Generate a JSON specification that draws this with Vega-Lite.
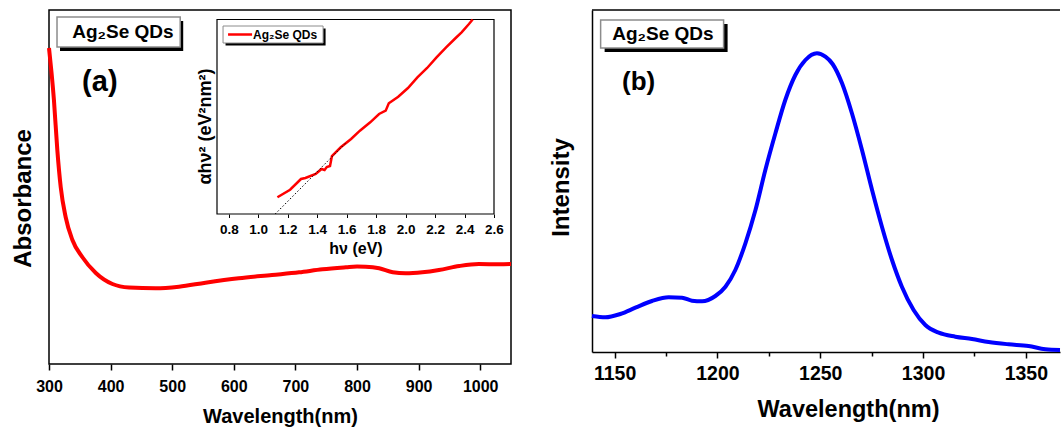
{
  "$schema": "https://vega.github.io/schema/vega-lite/v6.json",
  "background": "white",
  "padding": {"left": 10, "top": 9, "right": 0, "bottom": 0},
  "bounds": "flush",
  "spacing": 81,
  "config": {
    "font": "Liberation Sans",
    "view": {"stroke": "black", "strokeWidth": 1.5},
    "axis": {
      "grid": false,
      "domainColor": "black",
      "domainWidth": 1.5,
      "tickColor": "black",
      "tickWidth": 1.5,
      "labelColor": "black",
      "titleColor": "black",
      "labelFont": "Liberation Sans",
      "titleFont": "Liberation Sans",
      "labelFontWeight": "bold",
      "titleFontWeight": "bold",
      "labelFlush": false,
      "labelOverlap": false
    }
  },
  "datasets": {
    "absorbance": [
      {"wavelength": 300, "absorbance": 316},
      {"wavelength": 304, "absorbance": 292},
      {"wavelength": 308, "absorbance": 264},
      {"wavelength": 313.5, "absorbance": 214},
      {"wavelength": 319, "absorbance": 177},
      {"wavelength": 327, "absorbance": 147},
      {"wavelength": 338, "absorbance": 124},
      {"wavelength": 354, "absorbance": 107},
      {"wavelength": 376, "absorbance": 91},
      {"wavelength": 403, "absorbance": 80},
      {"wavelength": 430, "absorbance": 76.5},
      {"wavelength": 473, "absorbance": 75.7},
      {"wavelength": 511, "absorbance": 77.3},
      {"wavelength": 554, "absorbance": 81.3},
      {"wavelength": 608, "absorbance": 85.7},
      {"wavelength": 662, "absorbance": 89},
      {"wavelength": 706, "absorbance": 91.7},
      {"wavelength": 744, "absorbance": 94.7},
      {"wavelength": 782, "absorbance": 96.7},
      {"wavelength": 800, "absorbance": 97.5},
      {"wavelength": 814, "absorbance": 97.3},
      {"wavelength": 836, "absorbance": 95.7},
      {"wavelength": 858, "absorbance": 91.7},
      {"wavelength": 879, "absorbance": 90.7},
      {"wavelength": 906, "absorbance": 91.7},
      {"wavelength": 933, "absorbance": 94},
      {"wavelength": 966, "absorbance": 98},
      {"wavelength": 998, "absorbance": 100},
      {"wavelength": 1031, "absorbance": 99.7},
      {"wavelength": 1050, "absorbance": 100}
    ],
    "tauc": [
      {"energy": 1.13, "value": 16.7},
      {"energy": 1.216, "value": 24.3},
      {"energy": 1.29, "value": 35},
      {"energy": 1.32, "value": 36},
      {"energy": 1.39, "value": 40},
      {"energy": 1.43, "value": 45},
      {"energy": 1.45, "value": 44},
      {"energy": 1.465, "value": 47},
      {"energy": 1.487, "value": 48},
      {"energy": 1.5, "value": 58},
      {"energy": 1.56, "value": 66.7},
      {"energy": 1.63, "value": 75},
      {"energy": 1.69, "value": 83.3},
      {"energy": 1.76, "value": 91.7},
      {"energy": 1.82, "value": 100},
      {"energy": 1.865, "value": 103.3},
      {"energy": 1.886, "value": 110.7},
      {"energy": 1.95, "value": 117.3},
      {"energy": 2.016, "value": 126},
      {"energy": 2.08, "value": 136.7},
      {"energy": 2.146, "value": 146},
      {"energy": 2.21, "value": 156.7},
      {"energy": 2.275, "value": 166.7},
      {"energy": 2.34, "value": 176},
      {"energy": 2.38, "value": 181.7},
      {"energy": 2.43, "value": 190},
      {"energy": 2.455, "value": 194.5}
    ],
    "tauc_fit": [
      {"energy": 1.115, "value": 0},
      {"energy": 1.6, "value": 72}
    ],
    "pl": [
      {"wavelength": 1139, "intensity": 36},
      {"wavelength": 1145.5, "intensity": 34.7},
      {"wavelength": 1152.8, "intensity": 38},
      {"wavelength": 1160.1, "intensity": 44.3},
      {"wavelength": 1168.2, "intensity": 51},
      {"wavelength": 1176.3, "intensity": 54.7},
      {"wavelength": 1182.8, "intensity": 54.3},
      {"wavelength": 1187.6, "intensity": 51.3},
      {"wavelength": 1192.5, "intensity": 50.7},
      {"wavelength": 1199, "intensity": 56},
      {"wavelength": 1203.9, "intensity": 65.3},
      {"wavelength": 1208.7, "intensity": 82},
      {"wavelength": 1213.6, "intensity": 108.7},
      {"wavelength": 1218.5, "intensity": 142},
      {"wavelength": 1223.3, "intensity": 182},
      {"wavelength": 1228.2, "intensity": 218.7},
      {"wavelength": 1233, "intensity": 252},
      {"wavelength": 1237.9, "intensity": 277},
      {"wavelength": 1242.8, "intensity": 292},
      {"wavelength": 1248.4, "intensity": 298.7},
      {"wavelength": 1252.5, "intensity": 295.3},
      {"wavelength": 1256, "intensity": 288},
      {"wavelength": 1260.6, "intensity": 268.7},
      {"wavelength": 1265.4, "intensity": 238.7},
      {"wavelength": 1270.3, "intensity": 202},
      {"wavelength": 1275.2, "intensity": 162},
      {"wavelength": 1280, "intensity": 125.3},
      {"wavelength": 1284.9, "intensity": 92},
      {"wavelength": 1289.7, "intensity": 65.3},
      {"wavelength": 1295.4, "intensity": 42},
      {"wavelength": 1301.1, "intensity": 27},
      {"wavelength": 1307.6, "intensity": 19.3},
      {"wavelength": 1315.7, "intensity": 15.3},
      {"wavelength": 1323.8, "intensity": 13},
      {"wavelength": 1331.9, "intensity": 10},
      {"wavelength": 1341.6, "intensity": 7.7},
      {"wavelength": 1351.3, "intensity": 6},
      {"wavelength": 1359.5, "intensity": 2.7},
      {"wavelength": 1366.6, "intensity": 2}
    ]
  },
  "hconcat": [
    {
      "width": 462,
      "height": 354,
      "resolve": {
        "scale": {"x": "independent", "y": "independent"},
        "axis": {"x": "independent", "y": "independent"}
      },
      "layer": [
        {
          "layer": [
            {
              "data": {"name": "absorbance"},
              "mark": {"type": "line", "color": "#ff0000", "strokeWidth": 4, "interpolate": "monotone"},
              "encoding": {
                "x": {
                  "field": "wavelength",
                  "type": "quantitative",
                  "scale": {"domain": [300, 1050], "nice": false, "zero": false},
                  "axis": {
                    "orient": "bottom",
                    "title": "Wavelength(nm)",
                    "values": [300, 350, 400, 450, 500, 550, 600, 650, 700, 750, 800, 850, 900, 950, 1000, 1050],
                    "format": "d",
                    "labelExpr": "datum.value % 100 === 0 ? datum.label : ''",
                    "tickSize": {"condition": {"test": "datum.value % 100 === 50", "value": 4}, "value": 6},
                    "labelFontSize": 16,
                    "titleFontSize": 20,
                    "labelPadding": 8,
                    "titlePadding": 12,
                    "domain": false
                  }
                },
                "y": {
                  "field": "absorbance",
                  "type": "quantitative",
                  "scale": {"domain": [0, 354], "nice": false, "zero": false},
                  "axis": {
                    "orient": "left",
                    "title": "Absorbance",
                    "labels": false,
                    "ticks": false,
                    "domain": false,
                    "titleFontSize": 24,
                    "titlePadding": 14,
                    "titleY": 188
                  }
                }
              }
            },
            {
              "data": {"values": [{}]},
              "mark": {"type": "rect", "fill": "black", "xOffset": 3, "x2Offset": 3, "yOffset": 4, "y2Offset": 4},
              "encoding": {
                "x": {"datum": 313, "type": "quantitative"},
                "x2": {"datum": 513},
                "y": {"datum": 317, "type": "quantitative"},
                "y2": {"datum": 347}
              }
            },
            {
              "data": {"values": [{}]},
              "mark": {"type": "rect", "fill": "white", "stroke": "#8c8c8c", "strokeWidth": 1.5},
              "encoding": {
                "x": {"datum": 313, "type": "quantitative"},
                "x2": {"datum": 513},
                "y": {"datum": 317, "type": "quantitative"},
                "y2": {"datum": 347}
              }
            },
            {
              "data": {"values": [{}]},
              "mark": {"type": "text", "text": "Ag₂Se QDs", "fontSize": 19, "fontWeight": "bold", "align": "center", "baseline": "middle", "color": "black"},
              "encoding": {
                "x": {"datum": 420, "type": "quantitative"},
                "y": {"datum": 332, "type": "quantitative"}
              }
            },
            {
              "data": {"values": [{}]},
              "mark": {"type": "text", "text": "(a)", "fontSize": 29, "fontWeight": "bold", "align": "center", "baseline": "middle", "color": "black"},
              "encoding": {
                "x": {"datum": 382.5, "type": "quantitative"},
                "y": {"datum": 282.5, "type": "quantitative"}
              }
            }
          ]
        },
        {
          "layer": [
            {
              "data": {"values": [{}]},
              "mark": {"type": "rect", "fill": "white", "stroke": "black", "strokeWidth": 1.2},
              "encoding": {
                "x": {"datum": 0.72, "type": "quantitative"},
                "x2": {"datum": 2.6},
                "y": {"datum": 0, "type": "quantitative"},
                "y2": {"datum": 194.5}
              }
            },
            {
              "data": {"name": "tauc"},
              "mark": {"type": "line", "color": "#ff0000", "strokeWidth": 2.5},
              "encoding": {
                "x": {
                  "field": "energy",
                  "type": "quantitative",
                  "scale": {"domain": [0.72, 2.6], "range": [168, 445], "nice": false, "zero": false},
                  "axis": {
                    "orient": "bottom",
                    "offset": -150,
                    "title": "hν (eV)",
                    "values": [0.8, 0.9, 1.0, 1.1, 1.2, 1.3, 1.4, 1.5, 1.6, 1.7, 1.8, 1.9, 2.0, 2.1, 2.2, 2.3, 2.4, 2.5, 2.6],
                    "format": ".1f",
                    "labelExpr": "round(datum.value * 10) % 2 === 0 ? datum.label : ''",
                    "tickSize": {"condition": {"test": "round(datum.value * 10) % 2 === 1", "value": 2}, "value": 3.5},
                    "tickWidth": 1,
                    "labelFontSize": 13.5,
                    "titleFontSize": 16,
                    "labelPadding": 5,
                    "titlePadding": 4,
                    "domain": false
                  }
                },
                "y": {
                  "field": "value",
                  "type": "quantitative",
                  "scale": {"domain": [0, 194.5], "range": [204, 9.5], "nice": false, "zero": false},
                  "axis": {
                    "orient": "left",
                    "offset": -168,
                    "title": "αhν² (eV²nm²)",
                    "labels": false,
                    "ticks": false,
                    "domain": false,
                    "titleFontSize": 18,
                    "titlePadding": 3,
                    "titleY": 116
                  }
                }
              }
            },
            {
              "data": {"name": "tauc_fit"},
              "mark": {"type": "line", "color": "black", "strokeWidth": 1, "strokeDash": [1.5, 2]},
              "encoding": {
                "x": {"field": "energy", "type": "quantitative"},
                "y": {"field": "value", "type": "quantitative"}
              }
            },
            {
              "data": {"values": [{}]},
              "mark": {"type": "rect", "fill": "black", "xOffset": 2.5, "x2Offset": 2.5, "yOffset": 2.5, "y2Offset": 2.5},
              "encoding": {
                "x": {"datum": 0.761, "type": "quantitative"},
                "x2": {"datum": 1.44},
                "y": {"datum": 171, "type": "quantitative"},
                "y2": {"datum": 188}
              }
            },
            {
              "data": {"values": [{}]},
              "mark": {"type": "rect", "fill": "white", "stroke": "#8c8c8c", "strokeWidth": 1},
              "encoding": {
                "x": {"datum": 0.761, "type": "quantitative"},
                "x2": {"datum": 1.44},
                "y": {"datum": 171, "type": "quantitative"},
                "y2": {"datum": 188}
              }
            },
            {
              "data": {"values": [{}]},
              "mark": {"type": "rule", "color": "#ff0000", "strokeWidth": 2.5},
              "encoding": {
                "x": {"datum": 0.795, "type": "quantitative"},
                "x2": {"datum": 0.958},
                "y": {"datum": 179.5, "type": "quantitative"}
              }
            },
            {
              "data": {"values": [{}]},
              "mark": {"type": "text", "text": "Ag₂Se QDs", "fontSize": 12, "fontWeight": "bold", "align": "left", "baseline": "middle", "dx": 1, "color": "black"},
              "encoding": {
                "x": {"datum": 0.958, "type": "quantitative"},
                "y": {"datum": 179.5, "type": "quantitative"}
              }
            }
          ]
        }
      ]
    },
    {
      "width": 468,
      "height": 342,
      "view": {"stroke": null},
      "layer": [
        {
          "data": {"name": "pl"},
          "mark": {"type": "line", "color": "#0000ff", "strokeWidth": 4, "interpolate": "monotone"},
          "encoding": {
            "x": {
              "field": "wavelength",
              "type": "quantitative",
              "scale": {"domain": [1139, 1366.6], "nice": false, "zero": false},
              "axis": {
                "title": "Wavelength(nm)",
                "values": [1150, 1175, 1200, 1225, 1250, 1275, 1300, 1325, 1350],
                "format": "d",
                "labelExpr": "datum.value % 50 === 0 ? datum.label : ''",
                "tickSize": {"condition": {"test": "datum.value % 50 === 25", "value": 4}, "value": 6},
                "labelFontSize": 19.5,
                "titleFontSize": 23.5,
                "labelPadding": 6,
                "titlePadding": 15,
                "titleX": 256
              }
            },
            "y": {
              "field": "intensity",
              "type": "quantitative",
              "scale": {"domain": [0, 342], "nice": false, "zero": false},
              "axis": {
                "title": "Intensity",
                "labels": false,
                "ticks": false,
                "titleFontSize": 24,
                "titlePadding": 19,
                "titleY": 177
              }
            }
          }
        },
        {
          "data": {"values": [{}]},
          "mark": {"type": "rule", "color": "black", "strokeWidth": 1.5},
          "encoding": {
            "y": {"datum": 342, "type": "quantitative"}
          }
        },
        {
          "data": {"values": [{}]},
          "mark": {"type": "rect", "fill": "black", "xOffset": 4, "x2Offset": 4, "yOffset": 4, "y2Offset": 4},
          "encoding": {
            "x": {"datum": 1143.2, "type": "quantitative"},
            "x2": {"datum": 1203},
            "y": {"datum": 304, "type": "quantitative"},
            "y2": {"datum": 332}
          }
        },
        {
          "data": {"values": [{}]},
          "mark": {"type": "rect", "fill": "white", "stroke": "#8c8c8c", "strokeWidth": 1.5},
          "encoding": {
            "x": {"datum": 1143.2, "type": "quantitative"},
            "x2": {"datum": 1203},
            "y": {"datum": 304, "type": "quantitative"},
            "y2": {"datum": 332}
          }
        },
        {
          "data": {"values": [{}]},
          "mark": {"type": "text", "text": "Ag₂Se QDs", "fontSize": 19, "fontWeight": "bold", "align": "center", "baseline": "middle", "color": "black"},
          "encoding": {
            "x": {"datum": 1173.5, "type": "quantitative"},
            "y": {"datum": 318, "type": "quantitative"}
          }
        },
        {
          "data": {"values": [{}]},
          "mark": {"type": "text", "text": "(b)", "fontSize": 26, "fontWeight": "bold", "align": "center", "baseline": "middle", "color": "black"},
          "encoding": {
            "x": {"datum": 1161.7, "type": "quantitative"},
            "y": {"datum": 270.3, "type": "quantitative"}
          }
        }
      ]
    }
  ]
}
